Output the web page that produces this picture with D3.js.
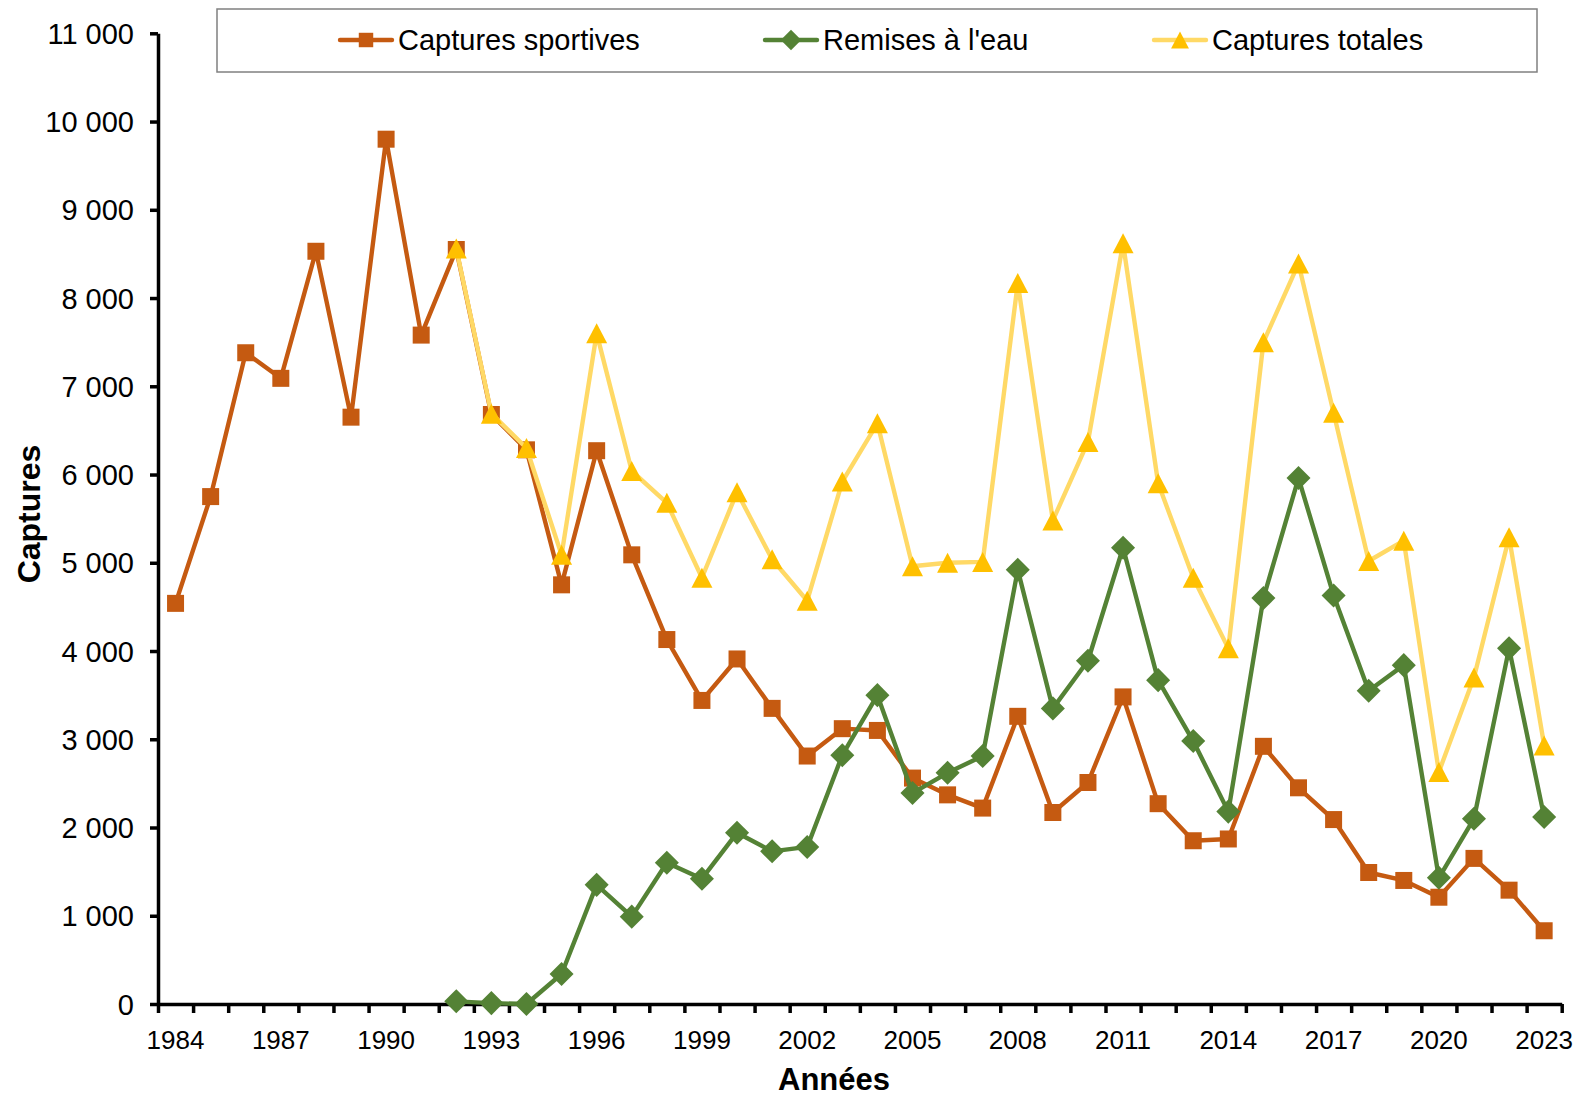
<!DOCTYPE html>
<html>
<head>
<meta charset="utf-8">
<script src="https://cdn.jsdelivr.net/npm/d3@7"></script>
<style>
  body { margin: 0; background: #fff; }
  svg text { font-family: "Liberation Sans", Arial, sans-serif; fill: #000; }
</style>
</head>
<body>
<div id="chart"></div>
<script>
const SPORT_COLOR = "#C55A11";
const REMISE_COLOR = "#548235";
const TOTAL_LINE = "#FFD966";
const TOTAL_MARK = "#FFC000";

// categories
const years = [1984, 1985, 1986, 1987, 1988, 1989, 1990, 1991, 1992, 1993,
  1994, 1995, 1996, 1997, 1998, 1999, 2000, 2001, 2002, 2003,
  2004, 2005, 2006, 2007, 2008, 2009, 2010, 2011, 2012, 2013,
  2014, 2015, 2016, 2017, 2018, 2019, 2020, 2021, 2022, 2023];
const yearLabels = [1984, 1987, 1990, 1993, 1996, 1999, 2002, 2005, 2008, 2011, 2014, 2017, 2020, 2023];
const yTicks = [0, 1000, 2000, 3000, 4000, 5000, 6000, 7000, 8000, 9000, 10000, 11000];

// series
const capturesSportives = [4540, 5750, 7380, 7090, 8530, 6650, 9800, 7580, 8550, 6680,
  6280, 4750, 6270, 5090, 4130, 3440, 3910, 3350, 2810, 3120,
  3100, 2560, 2370, 2220, 3260, 2170, 2510, 3480, 2270, 1850,
  1870, 2920, 2450, 2090, 1490, 1400, 1210, 1650, 1290, 830];
const remisesEau = [null, null, null, null, null, null, null, null, 30, 10,
  0, 340, 1350, 990, 1600, 1420, 1940, 1730, 1780, 2820,
  3500, 2390, 2620, 2810, 4920, 3350, 3890, 5170, 3670, 2980,
  2180, 4600, 5960, 4630, 3550, 3840, 1430, 2100, 4030, 2120];
const capturesTotales = [null, null, null, null, null, null, null, null, 8560, 6690,
  6300, 5090, 7600, 6040, 5680, 4830, 5800, 5040, 4570, 5920,
  6580, 4960, 5000, 5010, 8170, 5480, 6370, 8620, 5900, 4830,
  4030, 7500, 8390, 6700, 5020, 5250, 2630, 3700, 5290, 2930];

let width = 1583, height = 1096;
let mLeft = 158, mRight = 1561.7, mTop = 33.3, mBottom = 1004;

let svg = d3.select("#chart").append("svg").attr("width", width).attr("height", height);

let x = d3.scalePoint().domain(years).range([mLeft, mRight]).padding(0.5);
let xEdge = d3.scaleLinear().domain([0, years.length]).range([mLeft, mRight]);
let y = d3.scaleLinear().domain([0, 11000]).range([mBottom, mTop]);

let fmt = function (v) {
    return d3.format(",")(v).replace(",", "\u00a0");
};

// y axis
let yAxis = svg.append("g").attr("transform", "translate(" + mLeft + ",0)")
    .call(d3.axisLeft(y).tickValues(yTicks).tickSize(8).tickSizeOuter(0).tickPadding(16).tickFormat(fmt));
yAxis.select(".domain").attr("stroke", "#000").attr("stroke-width", 3.5);
yAxis.selectAll(".tick line").attr("stroke", "#000").attr("stroke-width", 3.5);
yAxis.selectAll(".tick text").attr("font-size", "29px").attr("dy", "0.35em")
    .style("font-family", "Liberation Sans, Arial, sans-serif");

// x axis (tick marks between categories)
let xAxis = svg.append("g").attr("transform", "translate(0," + mBottom + ")")
    .call(d3.axisBottom(xEdge).tickValues(d3.range(0, years.length + 1)).tickSize(9).tickSizeOuter(0).tickFormat(""));
xAxis.select(".domain").attr("stroke", "#000").attr("stroke-width", 3.5);
xAxis.selectAll(".tick line").attr("stroke", "#000").attr("stroke-width", 3.5);

svg.append("g").selectAll("text").data(yearLabels).join("text")
    .attr("x", d => x(d)).attr("y", mBottom + 45)
    .attr("text-anchor", "middle").attr("font-size", "26px")
    .text(d => d);

// axis titles
svg.append("text").attr("x", 834).attr("y", 1090).attr("text-anchor", "middle")
    .attr("font-size", "31px").attr("font-weight", "bold").text("Années");
svg.append("text").attr("transform", "translate(40,514) rotate(-90)").attr("text-anchor", "middle")
    .attr("font-size", "32px").attr("font-weight", "bold").text("Captures");

// markers
function squarePath(s) { return d3.symbol().type(d3.symbolSquare).size(s * s)(); }
function trianglePath(w, h) { return "M0," + (-h / 2) + "L" + (w / 2) + "," + (h / 2) + "L" + (-w / 2) + "," + (h / 2) + "Z"; }

let series = [
    { name: "Captures sportives", values: capturesSportives, line: SPORT_COLOR, mark: SPORT_COLOR, path: squarePath(17), rot: 0 },
    { name: "Remises à l'eau", values: remisesEau, line: REMISE_COLOR, mark: REMISE_COLOR, path: squarePath(17), rot: 45 },
    { name: "Captures totales", values: capturesTotales, line: TOTAL_LINE, mark: TOTAL_MARK, path: trianglePath(21, 20), rot: 0 }
];

let line = d3.line().defined(d => d.v !== null).x(d => x(d.year)).y(d => y(d.v));

series.forEach(function (s) {
    let pts = years.map((yr, i) => ({ year: yr, v: s.values[i] }));
    let g = svg.append("g");
    g.append("path").datum(pts).attr("d", line).attr("fill", "none")
        .attr("stroke", s.line).attr("stroke-width", 4.4).attr("stroke-linejoin", "round");
    g.selectAll(".m").data(pts.filter(d => d.v !== null)).join("path")
        .attr("class", "m").attr("d", s.path).attr("fill", s.mark)
        .attr("transform", d => "translate(" + x(d.year) + "," + y(d.v) + ") rotate(" + s.rot + ")");
});

// legend
let lg = svg.append("g");
lg.append("rect").attr("x", 217).attr("y", 9).attr("width", 1320).attr("height", 63)
    .attr("fill", "#fff").attr("stroke", "#808080").attr("stroke-width", 1.5);
let legendX = [340, 765, 1154];
series.forEach(function (s, i) {
    let gx = legendX[i];
    lg.append("line").attr("x1", gx).attr("x2", gx + 52).attr("y1", 40).attr("y2", 40)
        .attr("stroke", s.line).attr("stroke-width", 4.4).attr("stroke-linecap", "round");
    lg.append("path").attr("d", s.path).attr("fill", s.mark)
        .attr("transform", "translate(" + (gx + 26) + ",40) rotate(" + s.rot + ") scale(0.85)");
    lg.append("text").attr("x", gx + 58).attr("y", 40).attr("dy", "0.35em")
        .attr("font-size", "29px").text(s.name);
});
</script>
</body>
</html>
